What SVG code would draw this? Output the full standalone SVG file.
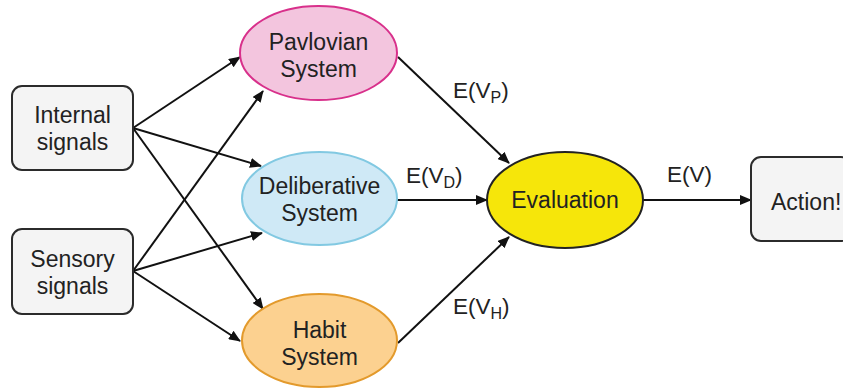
<svg xmlns="http://www.w3.org/2000/svg" width="843" height="391" viewBox="0 0 843 391">
<style>
.box{fill:#f4f4f4;stroke:#2b2b2b;stroke-width:2}
.t{font-family:"Liberation Sans",Arial,sans-serif;font-size:23px;fill:#222;text-anchor:middle}
.lab{font-family:"Liberation Sans",Arial,sans-serif;font-size:22.5px;fill:#222}
.sub{font-size:16px}
.edge{stroke:#111;stroke-width:2;fill:none;marker-end:url(#ah)}
</style>
<defs>
<marker id="ah" viewBox="0 0 12 10" refX="11" refY="5" markerWidth="12" markerHeight="10" markerUnits="userSpaceOnUse" orient="auto">
<path d="M0,0 L12,5 L0,10 Z" fill="#111"/>
</marker>
</defs>
<rect width="843" height="391" fill="#fff"/>
<g id="connectors">
<line class="edge" x1="133" y1="128" x2="240" y2="57"/>
<line class="edge" x1="133" y1="128" x2="261" y2="166"/>
<line class="edge" x1="133" y1="128" x2="263" y2="309"/>
<line class="edge" x1="133" y1="271" x2="263" y2="91"/>
<line class="edge" x1="133" y1="271" x2="262" y2="233"/>
<line class="edge" x1="133" y1="271" x2="240" y2="341"/>
<line class="edge" x1="398" y1="57" x2="509" y2="163"/>
<line class="edge" x1="397" y1="200" x2="487" y2="200"/>
<line class="edge" x1="398" y1="343" x2="509" y2="237"/>
<line class="edge" x1="643" y1="200" x2="751" y2="200"/>
<text class="lab" x="453" y="98">E(V<tspan class="sub" dy="5">P</tspan><tspan dy="-5">)</tspan></text>
<text class="lab" x="406" y="183">E(V<tspan class="sub" dy="5">D</tspan><tspan dy="-5">)</tspan></text>
<text class="lab" x="453" y="314">E(V<tspan class="sub" dy="5">H</tspan><tspan dy="-5">)</tspan></text>
<text class="lab" x="667" y="182">E(V)</text>
</g>
<g id="internal">
<rect class="box" x="12" y="86" width="121" height="84" rx="10"/>
<text class="t" x="72.5" y="123">Internal</text>
<text class="t" x="72.5" y="150">signals</text>
</g>
<g id="sensory">
<rect class="box" x="12" y="229" width="121" height="85" rx="10"/>
<text class="t" x="72.5" y="267">Sensory</text>
<text class="t" x="72.5" y="294">signals</text>
</g>
<g id="pavlovian">
<ellipse cx="318.5" cy="53" rx="78.5" ry="47" fill="#f3c5de" stroke="#d8308b" stroke-width="2"/>
<text class="t" x="318.5" y="50">Pavlovian</text>
<text class="t" x="318.5" y="77">System</text>
</g>
<g id="deliberative">
<ellipse cx="319.5" cy="198.5" rx="77.5" ry="46.5" fill="#cfe9f6" stroke="#82c9e2" stroke-width="2"/>
<text class="t" x="319.5" y="194">Deliberative</text>
<text class="t" x="319.5" y="221">System</text>
</g>
<g id="habit">
<ellipse cx="319.5" cy="340.5" rx="77.5" ry="46.5" fill="#fcd190" stroke="#e39a2c" stroke-width="2"/>
<text class="t" x="319.5" y="338">Habit</text>
<text class="t" x="319.5" y="365">System</text>
</g>
<g id="evaluation">
<ellipse cx="565" cy="200" rx="78" ry="48" fill="#f6e60a" stroke="#222" stroke-width="2"/>
<text class="t" x="565" y="208">Evaluation</text>
</g>
<g id="action">
<rect class="box" x="751" y="157" width="100" height="84" rx="10"/>
<text class="t" x="771" y="210" style="text-anchor:start">Action!</text>
</g>
</svg>
